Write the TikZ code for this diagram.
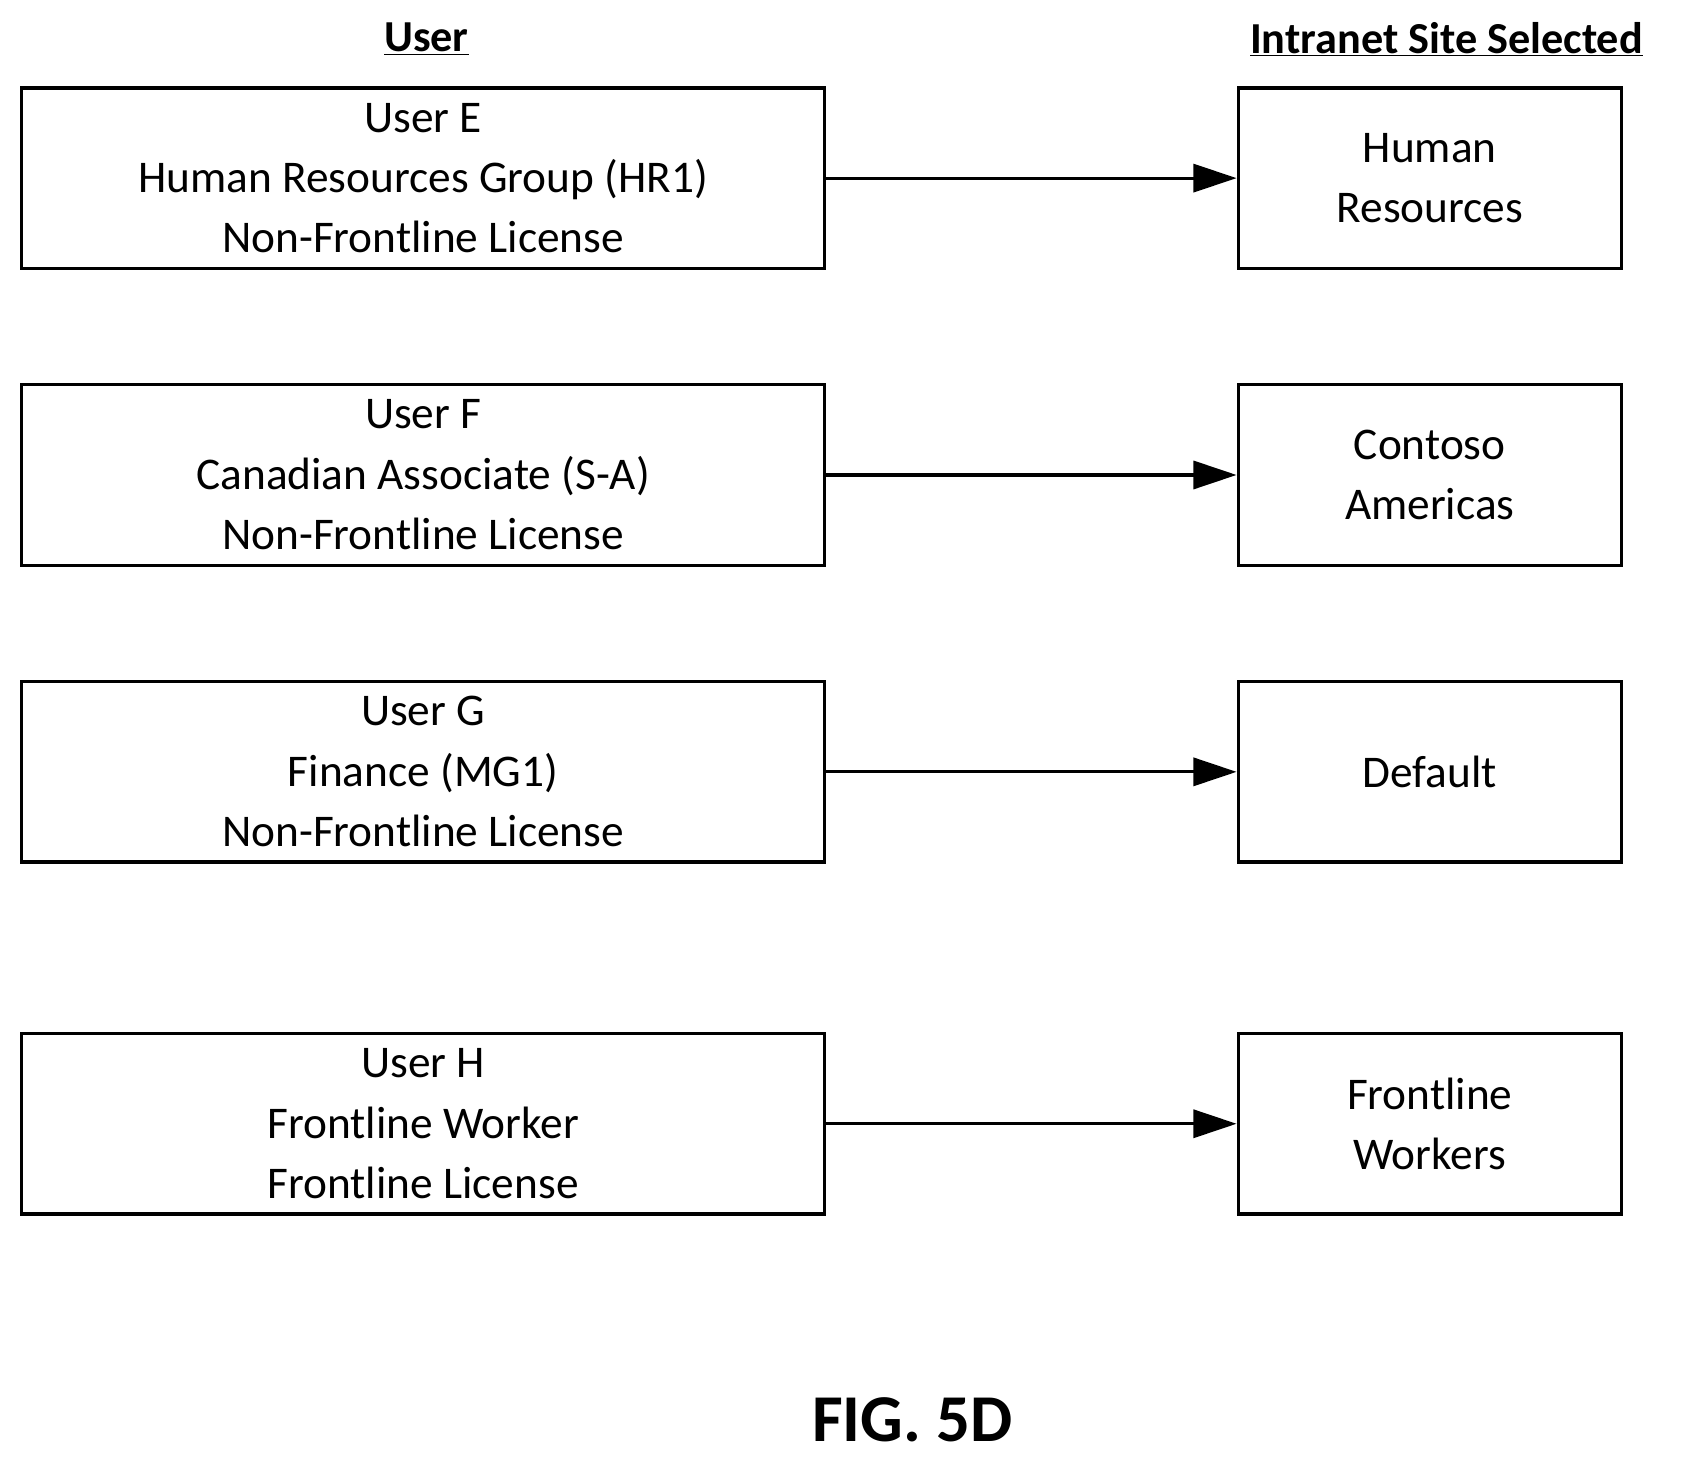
\documentclass[tikz,border=0pt]{standalone}
\usepackage{fontspec}
\setmainfont{Carlito}
\usetikzlibrary{arrows.meta}
\begin{document}
\begin{tikzpicture}[x=1pt,y=-1pt,
  box/.style={draw,line width=3pt,inner sep=0pt,align=center,font=\fontsize{42}{56}\selectfont},
  arr/.style={line width=3pt,-{Triangle[length=40pt,width=26pt]}},
  hdr/.style={font=\fontsize{41}{44}\selectfont\bfseries}]
\useasboundingbox (0,0) rectangle (1560,1350);
\node[hdr] (h1) at (395,36) {\underline{User}};
\node[hdr] (h2) at (1340,36) {\underline{Intranet Site Selected}};
\foreach \n/\y/\t/\s in {e/165/{User E\\Human Resources Group (HR1)\\Non-Frontline License}/{Human\\Resources},
  f/440/{User F\\Canadian Associate (S-A)\\Non-Frontline License}/{Contoso\\Americas},
  g/715/{User G\\Finance (MG1)\\Non-Frontline License}/{Default},
  h/1041/{User H\\Frontline Worker\\Frontline License}/{Frontline\\Workers}}{
  \node[box,minimum width=744pt,minimum height=167pt] (u\n) at (392,\y) {\t};
  \node[box,minimum width=355pt,minimum height=167pt] (s\n) at (1324.5,\y) {\s};
  \draw[arr] (u\n.east) -- (s\n.west);
}
\node[font=\fontsize{62}{66}\selectfont\bfseries] (fig) at (845,1315) {FIG. 5D};
\end{tikzpicture}
\end{document}
